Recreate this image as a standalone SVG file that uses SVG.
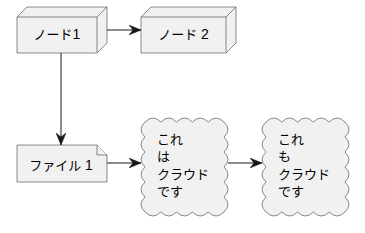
<svg xmlns="http://www.w3.org/2000/svg" width="365" height="233" viewBox="0 0 365 233">
<style>
.shape{fill:#F1F1F1;stroke:#181818;stroke-width:0.5;}
.edge{fill:none;stroke:#181818;stroke-width:1;}
text{font-family:"Liberation Sans","Noto Sans CJK JP",sans-serif;font-size:13px;fill:#000000;}
.c{text-anchor:middle;}
.d{font-size:14px;}
</style>
<defs>
<marker id="arr" viewBox="0 0 12 10" refX="12" refY="5" markerWidth="12" markerHeight="10" markerUnits="userSpaceOnUse" orient="auto">
<path d="M0,0 L12,5 L0,10 L4,5 Z" fill="#181818" stroke="#181818" stroke-width="0.5"/>
</marker>
<path id="cloud" d="M145,122 Q152.9,114 160.8,122 Q168.7,114 176.6,122 Q184.5,114 192.4,122 Q200.3,114 208.2,122 Q216.1,114 224,122 Q232,129.5 224,137 Q232,144.5 224,152 Q232,159.5 224,167 Q232,174.5 224,182 Q232,189.5 224,197 Q232,204.5 224,212 Q216.1,220 208.2,212 Q200.3,220 192.4,212 Q184.5,220 176.6,212 Q168.7,220 160.8,212 Q152.9,220 145,212 Q137,204.5 145,197 Q137,189.5 145,182 Q137,174.5 145,167 Q137,159.5 145,152 Q137,144.5 145,137 Q137,129.5 145,122 Z"/>
</defs>
<g id="node1">
<path class="shape" d="M17,17 L27,7 L107,7 L107,43 L97,53 L17,53 Z"/>
<path class="shape" d="M17,17 H97 V53 M97,17 L107,7" fill="none"/>
<text class="c" x="57" y="38.5">ノード<tspan class="d">1</tspan></text>
</g>
<g id="node2">
<path class="shape" d="M141,17 L151,7 L236,7 L236,43 L226,53 L141,53 Z"/>
<path class="shape" d="M141,17 H226 V53 M226,17 L236,7" fill="none"/>
<text class="c" x="183.5" y="38.5">ノード <tspan class="d">2</tspan></text>
</g>
<g id="file1">
<path class="shape" d="M17,145 H97 L107,155 V182 H17 Z"/>
<path class="shape" d="M97,145 V155 H107" fill="none"/>
<text class="c" x="61" y="170">ファイル <tspan class="d">1</tspan></text>
</g>
<g id="cloud1">
<use href="#cloud" class="shape"/>
<text x="157" y="143.5">これ</text>
<text x="157" y="161">は</text>
<text x="157" y="178.5">クラウド</text>
<text x="157" y="196">です</text>
</g>
<g id="cloud2">
<use href="#cloud" class="shape" transform="translate(121,0)"/>
<text x="278" y="143.5">これ</text>
<text x="278" y="161">も</text>
<text x="278" y="178.5">クラウド</text>
<text x="278" y="196">です</text>
</g>
<g id="connectors">
<path class="edge" d="M107,30 H141" marker-end="url(#arr)"/>
<path class="edge" d="M61,53 V145" marker-end="url(#arr)"/>
<path class="edge" d="M107,163 H141" marker-end="url(#arr)"/>
<path class="edge" d="M228,163 H262" marker-end="url(#arr)"/>
</g>
</svg>
